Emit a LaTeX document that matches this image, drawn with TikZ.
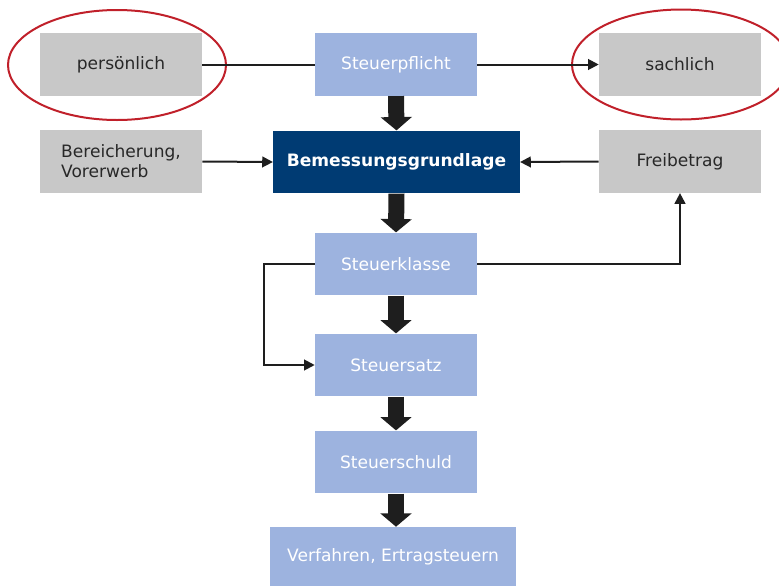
\documentclass[tikz,border=0pt]{standalone}
\usepackage{fontspec}
\setmainfont{DejaVu Sans}
\usetikzlibrary{shapes.geometric, arrows.meta}

\definecolor{flowblue}{RGB}{157,179,223}
\definecolor{mainblue}{RGB}{0,59,115}
\definecolor{sidegray}{RGB}{200,200,200}
\definecolor{darktext}{RGB}{40,40,40}
\definecolor{ringred}{RGB}{192,32,42}
\definecolor{arrowblack}{RGB}{30,30,30}

\begin{document}
\begin{tikzpicture}[x=0.75pt, y=-0.75pt,
    box/.style={rectangle, minimum width=121.5pt, minimum height=47pt, inner sep=0pt,
        font=\fontsize{12.8}{15}\selectfont},
    flow/.style={box, fill=flowblue, text=white},
    side/.style={box, fill=sidegray, text=darktext, align=left},
    main/.style={box, fill=mainblue, text=white, minimum width=185pt,
        font=\fontsize{12.8}{15}\selectfont\bfseries},
    ring/.style={ellipse, draw=ringred, line width=1.5pt, inner sep=0pt,
        minimum width=163.5pt, minimum height=82.5pt},
    bigarrow/.style={draw=arrowblack, line width=12pt, -{Triangle[width=23pt, length=10pt]}},
    thinline/.style={draw=arrowblack, line width=1.5pt},
    thinarrow/.style={thinline, -{Triangle[width=8pt, length=8pt]}}
]
    % canvas
    \useasboundingbox (0,0) rectangle (779,586);

    % top row
    \node[side] (pers) at (121,64.5) {persönlich};
    \node[flow] (pflicht) at (396,64.5) {Steuerpflicht};
    \node[side] (sach) at (680,64.5) {sachlich};

    % second row
    \node[side] (berei) at (121,161.5) {Bereicherung,\\Vorerwerb};
    \node[main] (bemess) at (396.5,162) {Bemessungsgrundlage};
    \node[side] (frei) at (680,161.5) {Freibetrag};

    % main column
    \node[flow] (klasse) at (396,264) {Steuerklasse};
    \node[flow] (satz) at (396,365) {Steuersatz};
    \node[flow] (schuld) at (396,462) {Steuerschuld};
    \node[flow, minimum width=184.5pt, minimum height=44.25pt] (verf) at (393,556.5) {Verfahren, Ertragsteuern};

    % red rings
    \node[ring] (ringL) at (117,65) {};
    \node[ring] (ringR) at (681,64.5) {};

    % thick arrows
    \draw[bigarrow] (pflicht.south) -- (bemess.north);
    \draw[bigarrow] (bemess.south) -- (klasse.north);
    \draw[bigarrow] (klasse.south) -- (satz.north);
    \draw[bigarrow] (satz.south) -- (schuld.north);
    \draw[bigarrow] (schuld.south) -- (schuld.south |- verf.north);

    % thin connectors
    \draw[thinline] (pers.east) -- (pflicht.west);
    \draw[thinarrow] (pflicht.east) -- (sach.west);
    \draw[thinarrow] (berei.east) -- (bemess.west);
    \draw[thinarrow] (frei.west) -- (bemess.east);
    \draw[thinarrow] (klasse.east) -| (frei.south);
    \draw[thinarrow] (klasse.west) -- ++(-51,0) |- (satz.west);
\end{tikzpicture}
\end{document}
